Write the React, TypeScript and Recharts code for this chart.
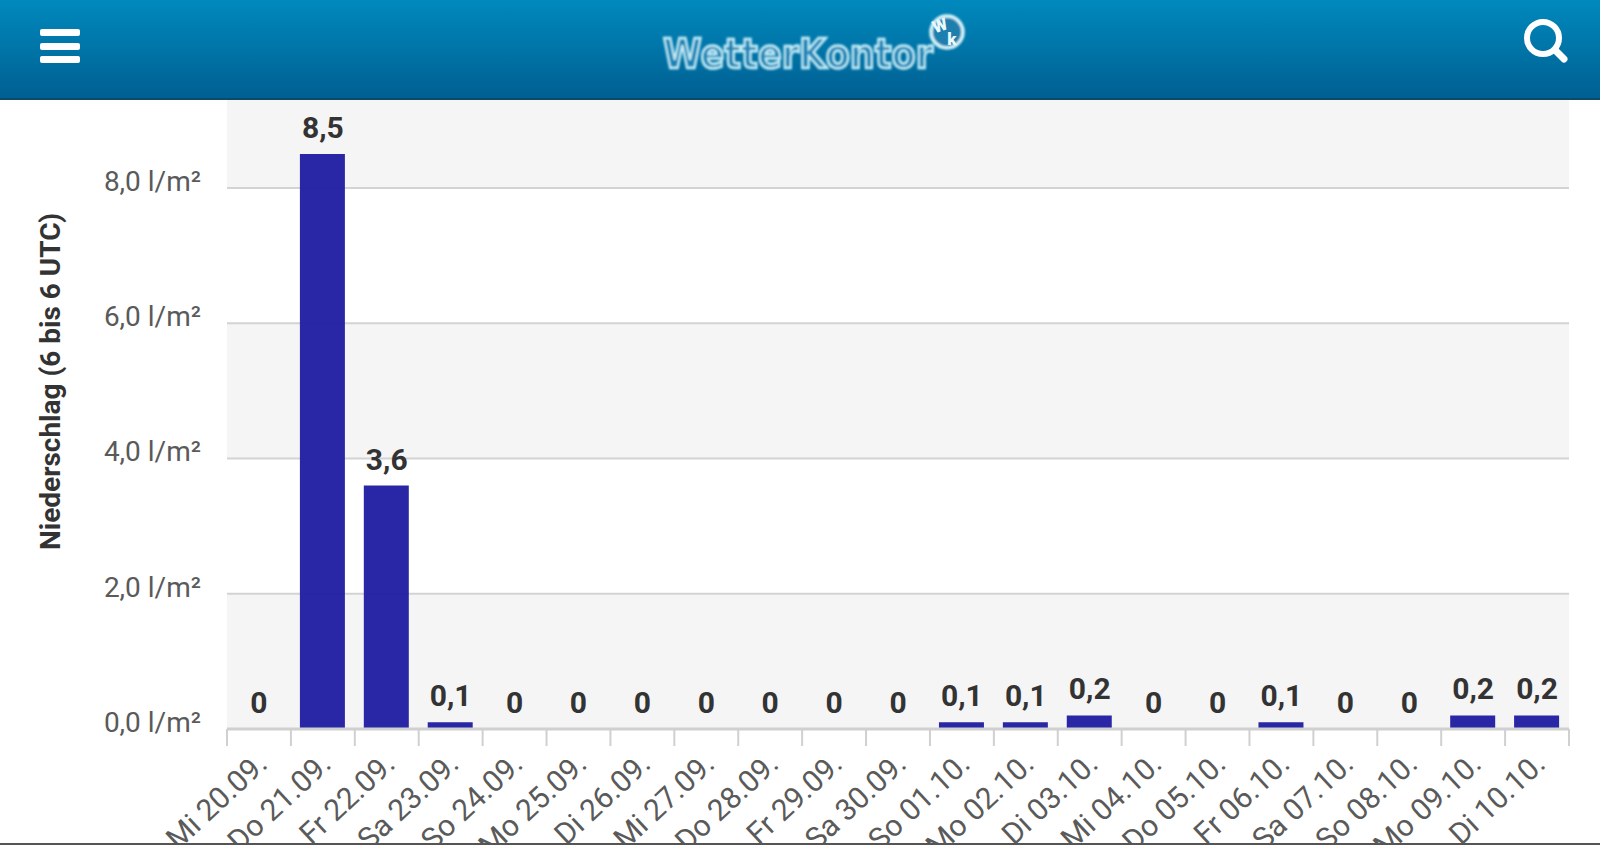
import { ComposedChart, Bar, Line, XAxis, YAxis, CartesianGrid, LabelList } from 'recharts';

const days = [
  'Mi 20.09.', 'Do 21.09.', 'Fr 22.09.', 'Sa 23.09.', 'So 24.09.', 'Mo 25.09.', 'Di 26.09.',
  'Mi 27.09.', 'Do 28.09.', 'Fr 29.09.', 'Sa 30.09.', 'So 01.10.', 'Mo 02.10.', 'Di 03.10.',
  'Mi 04.10.', 'Do 05.10.', 'Fr 06.10.', 'Sa 07.10.', 'So 08.10.', 'Mo 09.10.', 'Di 10.10.',
];
const rain = [0, 8.5, 3.6, 0.1, 0, 0, 0, 0, 0, 0, 0, 0.1, 0.1, 0.2, 0, 0, 0.1, 0, 0, 0.2, 0.2];
const yTicks = [0, 2, 4, 6, 8];

const data = days.map((day, i) => ({ day, rain: rain[i] }));

const FONT = 'Roboto, sans-serif';
const PLOT_LEFT = 227;
const PLOT_RIGHT = 1569;
const BAND = (PLOT_RIGHT - PLOT_LEFT) / days.length;
const AXIS_GREY = '#d0d0d0';

const comma = (v: number) => (v === 0 ? '0' : String(v).replace('.', ','));

const YTick = ({ x, y, payload }: any) => (
  <text x={x} y={y + 3} textAnchor="end" fontSize={28} fontFamily={FONT} fill="#5a5a5a">
    {payload.value.toFixed(1).replace('.', ',')} l/m²
  </text>
);

// ticks sit on the band edges, so the tick marks are drawn here with the label
const XTick = ({ x, y, payload, index }: any) => (
  <g>
    <line x1={x - BAND / 2} x2={x - BAND / 2} y1={729} y2={746} stroke={AXIS_GREY} strokeWidth={2} />
    {index === days.length - 1 && (
      <line x1={x + BAND / 2} x2={x + BAND / 2} y1={729} y2={746} stroke={AXIS_GREY} strokeWidth={2} />
    )}
    <text
      x={x + 10}
      y={y + 29}
      textAnchor="end"
      fontSize={30}
      fontFamily={FONT}
      fill="#5a5a5a"
      transform={`rotate(-43 ${x + 10} ${y + 29})`}
    >
      {payload.value}
    </text>
  </g>
);

const Header = () => (
  <svg width={1600} height={101} style={{ position: 'absolute', left: 0, top: 0 }}>
    <defs>
      <linearGradient id="head" x1="0" y1="0" x2="0" y2="1">
        <stop offset="0%" stopColor="#0089bd" />
        <stop offset="100%" stopColor="#005f92" />
      </linearGradient>
      <filter id="glow" x="-10%" y="-30%" width="120%" height="160%">
        <feGaussianBlur stdDeviation="0.9" />
      </filter>
    </defs>
    <rect width={1600} height={99} fill="url(#head)" />
    <rect y={98} width={1600} height={2} fill="#0b4a68" />
    <rect x={40} y={29} width={40} height={7} rx={2} fill="#fff" />
    <rect x={40} y={43} width={40} height={7} rx={2} fill="#fff" />
    <rect x={40} y={56} width={40} height={7} rx={2} fill="#fff" />
    <circle cx={1543} cy={38} r={16} fill="none" stroke="#fff" strokeWidth={6} />
    <line x1={1555} y1={50} x2={1564} y2={59} stroke="#fff" strokeWidth={7} strokeLinecap="round" />
    <g filter="url(#glow)">
      <text x={663} y={68} textLength={270} lengthAdjust="spacingAndGlyphs" fontFamily="'DejaVu Sans', sans-serif" fontWeight={700} fontSize={41} fill="#1384b6" stroke="#c4eef8" strokeWidth={2.5}>
        WetterKontor
      </text>
      <circle cx={947} cy={32} r={16} fill="#1b7fae" stroke="#d8f4fa" strokeWidth={3.5} />
    </g>
    <text x={942} y={31} textAnchor="middle" fontFamily={FONT} fontWeight={900} fontSize={17} fill="#e8f8fc" transform="rotate(-20 942 31)">W</text>
    <text x={952} y={45} textAnchor="middle" fontFamily={FONT} fontWeight={900} fontSize={17} fill="#e8f8fc">k</text>
  </svg>
);

export default function App() {
  return (
    <div style={{ position: 'fixed', left: 0, top: 0, width: 1600, height: 845, overflow: 'hidden', background: '#fff' }}>
      <ComposedChart
        width={1600}
        height={845}
        data={data}
        margin={{ top: 100, right: 1600 - PLOT_RIGHT, bottom: 0, left: 0 }}
        barCategoryGap={0}
      >
        <CartesianGrid
          vertical={false}
          stroke="#d3d3d3"
          strokeWidth={2}
          horizontalFill={['#f5f5f5', '#ffffff']}
          syncWithTicks
        />
        <XAxis
          dataKey="day"
          interval={0}
          height={116}
          tick={<XTick />}
          tickLine={false}
          axisLine={{ stroke: AXIS_GREY, strokeWidth: 3 }}
        />
        <YAxis
          width={PLOT_LEFT}
          domain={[0, 9.3]}
          ticks={yTicks}
          tickSize={0}
          tickMargin={26}
          tick={<YTick />}
          axisLine={false}
          tickLine={false}
          label={{
            value: 'Niederschlag (6 bis 6 UTC)',
            angle: -90,
            position: 'insideLeft',
            offset: 0,
            dx: 50,
            dy: -33,
            style: { fontFamily: FONT, fontWeight: 700, fontSize: 28, fill: '#333', textAnchor: 'middle' },
          }}
        />
        <Bar dataKey="rain" fill="#2220a3" fillOpacity={0.97} barSize={45} isAnimationActive={false} />
        {/* zero-height bars drop their labels, so an invisible line carries them */}
        <Line dataKey="rain" stroke="none" dot={false} activeDot={false} legendType="none" isAnimationActive={false}>
          <LabelList
            dataKey="rain"
            position="top"
            offset={16}
            formatter={comma}
            style={{ fontFamily: FONT, fontWeight: 700, fontSize: 30, fill: '#333' }}
          />
        </Line>
      </ComposedChart>
      <Header />
      <div style={{ position: 'absolute', left: 0, top: 843, width: 1600, height: 2, background: '#555' }} />
    </div>
  );
}
